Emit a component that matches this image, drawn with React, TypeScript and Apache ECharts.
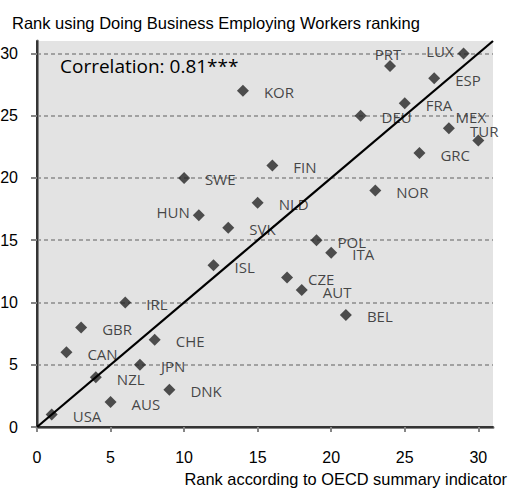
import React, { useEffect, useRef } from "react";
import * as echarts from "echarts";

const countries = ["USA","CAN","GBR","NZL","AUS","IRL","JPN","CHE","DNK","SWE","HUN","ISL","SVK","KOR","NLD","FIN","CZE","AUT","POL","ITA","BEL","DEU","NOR","PRT","FRA","GRC","ESP","MEX","LUX","TUR"];
const oecdRank = [1,2,3,4,5,6,7,8,9,10,11,12,13,14,15,16,17,18,19,20,21,22,23,24,25,26,27,28,29,30];
const doingBusinessRank = [1,6,8,4,2,10,5,7,3,20,17,13,16,27,18,21,12,11,15,14,9,25,19,29,26,22,28,24,30,23];
const tickValues = [0,5,10,15,20,25,30];
const diagonal = [[0,0],[31,31]];
const titleText = "Rank using Doing Business Employing Workers ranking";
const xAxisName = "Rank according to OECD summary indicator";
const correlationText = "Correlation: 0.81***";

const labelOverrides: Record<string, any> = {
  HUN: { position: "left", distance: 3, offset: [0, -3] },
  LUX: { position: "left", distance: 4, offset: [0, -2] },
  PRT: { position: "inside", offset: [-2, -12] },
  MEX: { position: "inside", offset: [22, -11] },
  TUR: { position: "inside", offset: [6, -10] },
};

export default function App() {
  const ref = useRef<HTMLDivElement>(null);
  useEffect(() => {
    document.body.style.margin = "0";
    document.body.style.overflow = "hidden";
    const chart = echarts.init(ref.current!, null, { renderer: "svg" });
    const points = countries.map((c, i) => ({
      name: c,
      value: [oecdRank[i], doingBusinessRank[i]],
      label: labelOverrides[c] ? { ...labelOverrides[c] } : undefined,
    }));
    const axisGray = "#868686";
    chart.setOption({
      animation: false,
      backgroundColor: "#fff",
      grid: {
        left: 37, right: 21, top: 41, bottom: 63,
        containLabel: false, outerBoundsMode: "none",
        show: true, backgroundColor: "#e3e3e3", borderWidth: 0,
      },
      xAxis: [
        {
          type: "value", min: 0, max: 31, interval: 5,
          axisLine: { show: true, onZero: false, lineStyle: { color: axisGray, width: 3 } },
          axisTick: { show: true, inside: false, length: 5, customValues: tickValues, lineStyle: { color: axisGray, width: 2 } },
          axisLabel: { show: true, customValues: tickValues, margin: 22, fontFamily: "Liberation Sans, Arial", fontSize: 16, color: "#000" },
          splitLine: { show: false },
        },
        {
          type: "value", min: 0, max: 31, position: "top",
          axisLine: { show: true, lineStyle: { color: "#1a1a1a", width: 1.5 } },
          axisTick: { show: false }, axisLabel: { show: false }, splitLine: { show: false },
        },
      ],
      yAxis: [
        {
          type: "value", min: 0, max: 31, interval: 5,
          axisLine: { show: true, onZero: false, lineStyle: { color: axisGray, width: 3 } },
          axisTick: { show: true, inside: false, length: 6, customValues: tickValues, lineStyle: { color: axisGray, width: 2 } },
          axisLabel: { show: true, customValues: tickValues, margin: 19, fontFamily: "Liberation Sans, Arial", fontSize: 16, color: "#000" },
          splitLine: { show: true, lineStyle: { color: "#8c8c8c", width: 1.5, type: [4, 3] } },
        },
        {
          type: "value", min: 0, max: 31, position: "right",
          axisLine: { show: true, lineStyle: { color: "#1a1a1a", width: 1.5 } },
          axisTick: { show: false }, axisLabel: { show: false }, splitLine: { show: false },
        },
      ],
      series: [
        {
          type: "scatter",
          xAxisIndex: 0, yAxisIndex: 0,
          symbol: "diamond",
          symbolSize: 12,
          itemStyle: { color: "#262626" },
          label: {
            show: true,
            position: "right",
            distance: 15,
            offset: [0, 1.5],
            formatter: "{b}",
            fontFamily: "Open Sans",
            fontSize: 15,
            color: "#1a1a1a",
          },
          data: points,
          z: 3,
        },
        {
          type: "line",
          xAxisIndex: 0, yAxisIndex: 0,
          data: diagonal,
          symbol: "none",
          lineStyle: { color: "#000", width: 2.25 },
          z: 4,
          silent: true,
        },
      ],
      graphic: [
        { type: "text", x: 12, y: 23, style: { text: titleText, fontFamily: "Liberation Sans, Arial", fontSize: 16.5, fill: "#000", textAlign: "left", textVerticalAlign: "middle" } },
        { type: "text", x: 507, y: 479, style: { text: xAxisName, fontFamily: "Liberation Sans, Arial", fontSize: 16.4, fill: "#000", textAlign: "right", textVerticalAlign: "middle" } },
        { type: "text", x: 60, y: 66, z: 10, style: { text: correlationText, fontFamily: "Open Sans", fontSize: 19, fill: "#000", textAlign: "left", textVerticalAlign: "middle" } },
      ],
    });
    return () => chart.dispose();
  }, []);
  return <div ref={ref} style={{ position: "fixed", left: 0, top: 0, width: 514, height: 490 }} />;
}
